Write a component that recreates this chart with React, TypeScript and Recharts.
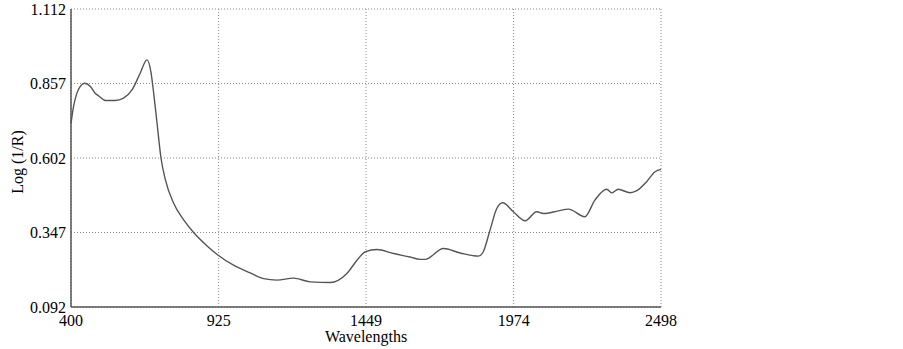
import React from 'react';
import { LineChart, Line, XAxis, YAxis, CartesianGrid } from 'recharts';

const wavelengths = [400, 409, 421, 433, 448, 469, 486, 498, 522, 557, 587, 617, 646, 670, 685, 694, 706, 720, 735, 765, 800, 836, 883, 921, 978, 1037, 1085, 1132, 1191, 1251, 1322, 1381, 1417, 1446, 1488, 1547, 1606, 1641, 1659, 1724, 1784, 1849, 1866, 1890, 1914, 1935, 1973, 2015, 2056, 2080, 2133, 2169, 2227, 2263, 2305, 2323, 2346, 2388, 2412, 2447, 2477, 2498];
const logR = [0.721, 0.778, 0.824, 0.847, 0.858, 0.847, 0.824, 0.815, 0.799, 0.799, 0.807, 0.835, 0.892, 0.938, 0.892, 0.824, 0.721, 0.602, 0.530, 0.447, 0.391, 0.347, 0.302, 0.271, 0.235, 0.209, 0.189, 0.184, 0.191, 0.178, 0.176, 0.207, 0.252, 0.281, 0.289, 0.275, 0.263, 0.255, 0.255, 0.292, 0.277, 0.266, 0.281, 0.355, 0.429, 0.449, 0.418, 0.387, 0.418, 0.412, 0.421, 0.427, 0.401, 0.458, 0.495, 0.483, 0.495, 0.483, 0.490, 0.521, 0.555, 0.563];
const xTicks = [400, 925, 1449, 1974, 2498];
const yTicks = [0.092, 0.347, 0.602, 0.857, 1.112];

const data = wavelengths.map((w, i) => ({ w, v: logR[i] }));

const FONT = '"Liberation Serif", "Times New Roman", serif';

const YLabel = (props: any) => {
  const vb = props.viewBox || { x: 0, y: 0, width: 71, height: 298 };
  const cx = vb.x + 17;
  const cy = vb.y + vb.height / 2 + 4;
  return (
    <text x={cx} y={cy} transform={`rotate(-90, ${cx}, ${cy})`} textAnchor="middle" dominantBaseline="central" fontFamily={FONT} fontSize={16} fill="#000">
      Log (1/R)
    </text>
  );
};

export default function App() {
  return (
    <div style={{ position: 'absolute', left: 0, top: 0, background: '#fff' }}>
      <LineChart width={903} height={349} data={data} margin={{ top: 9, right: 242, bottom: 0, left: 0 }}>
        <CartesianGrid stroke="#8a8a8a" strokeDasharray="1 2" horizontalValues={yTicks} verticalValues={xTicks} />
        <XAxis
          dataKey="w"
          type="number"
          domain={[400, 2498]}
          ticks={xTicks}
          interval={0}
          height={42}
          tickLine={false}
          tickSize={0}
          tickMargin={8}
          axisLine={{ stroke: '#555', strokeWidth: 1.5 }}
          tick={{ fill: '#000', fontFamily: FONT, fontSize: 16 }}
          label={{ value: 'Wavelengths', position: 'insideBottom', offset: 7, fill: '#000', fontFamily: FONT, fontSize: 16 }}
        />
        <YAxis
          type="number"
          domain={[0.092, 1.112]}
          ticks={yTicks}
          interval={0}
          width={71}
          tickLine={false}
          tickSize={0}
          tickMargin={5}
          axisLine={{ stroke: '#555', strokeWidth: 1.5 }}
          tick={{ fill: '#000', fontFamily: FONT, fontSize: 16 }}
          tickFormatter={(v: number) => v.toFixed(3)}
          label={<YLabel />}
        />
        <Line type="monotone" dataKey="v" stroke="#555" strokeWidth={1.4} dot={false} isAnimationActive={false} />
      </LineChart>
    </div>
  );
}
